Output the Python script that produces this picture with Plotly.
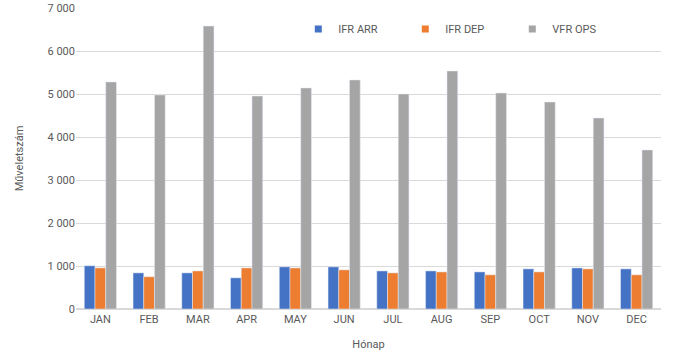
import plotly.graph_objects as go

months = ["JAN", "FEB", "MAR", "APR", "MAY", "JUN", "JUL", "AUG", "SEP", "OCT", "NOV", "DEC"]
ifr_arr = [1005, 840, 840, 725, 980, 980, 885, 885, 862, 933, 955, 933]
ifr_dep = [956, 750, 885, 955, 955, 910, 840, 862, 795, 862, 933, 795]
vfr_ops = [5280, 4977, 6581, 4953, 5140, 5326, 5000, 5535, 5023, 4814, 4442, 3698]

series_names = ["IFR ARR", "IFR DEP", "VFR OPS"]
series_colors = ["#4472C4", "#ED7D31", "#A5A5A5"]

font_family = "Roboto, Liberation Sans, Arial, sans-serif"
text_color = "#595959"

fig = go.Figure()
for name, vals, col in zip(series_names, [ifr_arr, ifr_dep, vfr_ops], series_colors):
    fig.add_trace(go.Bar(x=months, y=vals, name=name, marker_color=col, showlegend=False))
# legend entries with small square swatches
for name, col in zip(series_names, series_colors):
    fig.add_trace(go.Scatter(x=[None], y=[None], mode="markers", name=name,
                             marker=dict(symbol="square", size=7, color=col)))

fig.update_layout(
    width=685, height=355,
    margin=dict(l=76, r=24, t=8, b=46, autoexpand=False),
    paper_bgcolor="white", plot_bgcolor="white",
    barmode="group", bargap=0.34, bargroupgap=0,
    separators=", ",
    font=dict(family=font_family, size=11, color=text_color),
    legend=dict(orientation="h", x=0.38, y=0.93, xanchor="left", yanchor="middle",
                entrywidth=62, itemwidth=30, font=dict(size=11, color=text_color),
                bgcolor="rgba(0,0,0,0)", tracegroupgap=0),
    xaxis=dict(title=dict(text="Hónap", font=dict(size=11, color=text_color), standoff=15),
               showgrid=False, showline=True, linecolor="#D9D9D9", ticks="",
               tickfont=dict(size=11, color=text_color), automargin=False),
    yaxis=dict(title=dict(text="Műveletszám", font=dict(size=11, color=text_color), standoff=21),
               range=[0, 7000], dtick=1000, tickformat=",d",
               showgrid=True, gridcolor="#D9D9D9", zeroline=True, zerolinecolor="#D9D9D9",
               ticks="", tickfont=dict(size=11, color=text_color), automargin=False),
)

fig.write_html("out.html", config={"displayModeBar": False},
               post_script="document.body.style.margin='0';")
